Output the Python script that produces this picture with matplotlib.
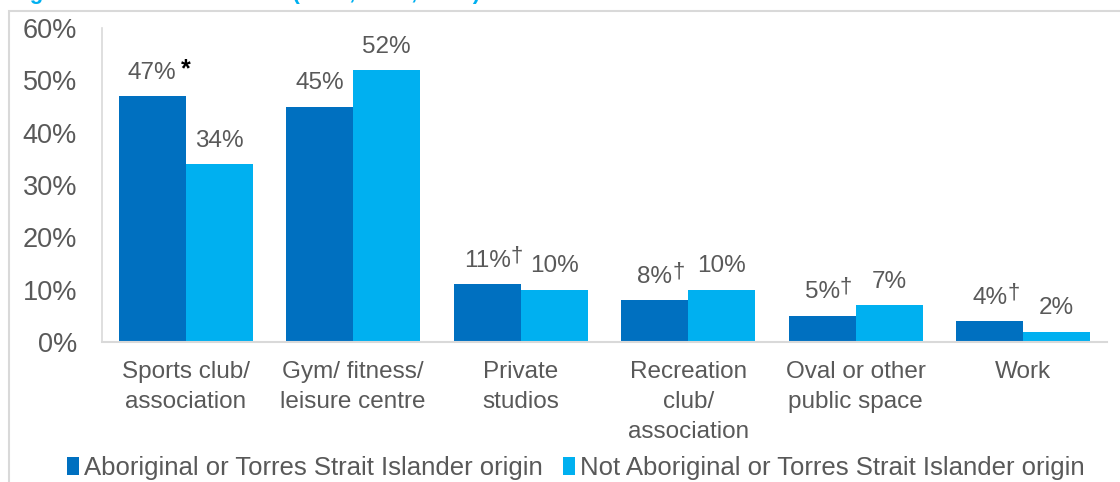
import numpy as np
import matplotlib
matplotlib.use("Agg")
from matplotlib import pyplot as plt
from matplotlib.patches import Rectangle

plt.rcParams['font.family'] = ['Liberation Sans', 'DejaVu Sans']

# categories and series values (percent)
categories = ["Sports club/\nassociation", "Gym/ fitness/\nleisure centre", "Private\nstudios",
              "Recreation\nclub/\nassociation", "Oval or other\npublic space", "Work"]
aboriginal = [47, 45, 11, 8, 5, 4]
not_aboriginal = [34, 52, 10, 10, 7, 2]
# markers placed after the first series' labels
aboriginal_marks = ["*", "", "\u2020", "\u2020", "\u2020", "\u2020"]
series_names = ["Aboriginal or Torres Strait Islander origin",
                "Not Aboriginal or Torres Strait Islander origin"]
y_ticks = [0, 10, 20, 30, 40, 50, 60]

DARK = "#0070c0"
LIGHT = "#00b0f0"
TEXT = "#595959"
GRID = "#d9d9d9"

fig = plt.figure(figsize=(11.2, 4.82), dpi=100)

# outer chart frame (runs past the right and bottom edges)
fig.patches.append(Rectangle((9 / 1120, -0.1), 1.2, 1 - 11 / 482 + 0.1, transform=fig.transFigure,
                             fill=False, edgecolor=GRID, linewidth=1.5))
# title line, mostly cut off by the top of the figure
fig.text(10 / 1120, 1 + 1 / 482, "Figure 8: Member location (2016, 2017, 2018)",
         color=LIGHT, fontsize=16, fontweight="bold", ha="left", va="baseline")

ax = fig.add_axes([102 / 1120, 1 - 342 / 482, 1005 / 1120, (342 - 28) / 482])

x = np.arange(len(categories))
w = 0.4
b1 = ax.bar(x - w / 2, aboriginal, w, color=DARK, label=series_names[0])
b2 = ax.bar(x + w / 2, not_aboriginal, w, color=LIGHT, label=series_names[1])

for xi, v, m in zip(x - w / 2, aboriginal, aboriginal_marks):
    t = ax.annotate(f"{v}%", (xi, v), xytext=(0, 12.5), textcoords="offset points",
                    ha="center", va="baseline", fontsize=17.5, color=TEXT)
    if m == "*":
        ax.annotate(m, xy=(1, 0.1), xycoords=t, xytext=(3, 0), textcoords="offset points",
                    ha="left", va="bottom", fontsize=18, fontweight="bold", color="black")
    elif m:
        ax.annotate(m, xy=(1, 0.25), xycoords=t, ha="left", va="bottom", fontsize=16, color=TEXT)

for xi, v in zip(x + w / 2, not_aboriginal):
    ax.annotate(f"{v}%", (xi, v), xytext=(0, 12.5), textcoords="offset points",
                ha="center", va="baseline", fontsize=17.5, color=TEXT)

ax.set_xlim(-0.5, len(categories) - 0.5)
ax.set_ylim(0, 60)
ax.set_yticks(y_ticks)
ax.set_yticklabels([f"{t}%" for t in y_ticks])
ax.set_xticks(x)
ax.set_xticklabels(categories, linespacing=1.45)
ax.tick_params(axis="y", length=0, pad=18, labelsize=19.5, labelcolor=TEXT)
ax.tick_params(axis="x", length=0, pad=14, labelsize=17.5, labelcolor=TEXT)

for s in ["top", "right"]:
    ax.spines[s].set_visible(False)
ax.spines["left"].set_color(GRID)
ax.spines["bottom"].set_color(GRID)
ax.spines["left"].set_linewidth(1.2)
ax.spines["bottom"].set_linewidth(1.5)

fig.legend(handles=[b1, b2], loc="center", bbox_to_anchor=(576 / 1120, 1 - 468 / 482), ncol=2,
           frameon=False, fontsize=18.5, labelcolor=TEXT, handlelength=0.45, handleheight=0.65,
           handletextpad=0.2, columnspacing=0.8, borderpad=0)

fig.savefig("out.png", dpi=100)
